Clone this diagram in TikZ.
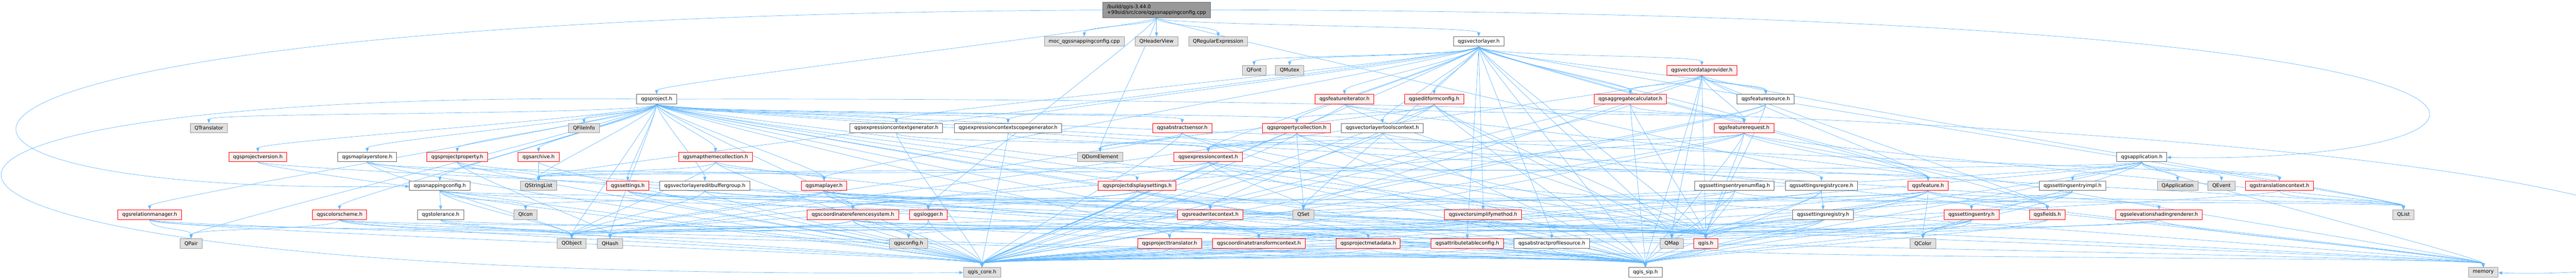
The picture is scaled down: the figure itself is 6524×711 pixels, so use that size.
\documentclass[tikz,border=0pt]{standalone}
\usepackage{fontspec}
\setmainfont{DejaVu Sans}
\usetikzlibrary{arrows.meta, backgrounds}

\definecolor{linkblue}{HTML}{63B8FF}
\definecolor{boxred}{HTML}{FFF0F0}
\definecolor{boxgray}{HTML}{E0E0E0}
\definecolor{rimgray}{HTML}{999999}
\definecolor{rimdark}{HTML}{666666}

\begin{document}
\begin{tikzpicture}[
            x = 1pt, y = -1pt, % one unit per pixel, rows run downwards
            > = {Triangle[length=10pt, width=8pt]}, % arrow head style
            font = \fontsize{12.7}{15}\selectfont
        ]

        \useasboundingbox (0,0) rectangle (6524,711);

        \tikzstyle{every node}=[
            rectangle,
            line width = 1.2pt,
            minimum height = 24pt,
            inner xsep = 11pt,
            inner ysep = 0pt,
            text = black
        ]
        \tikzstyle{header}=[draw = rimdark, fill = white]
        \tikzstyle{cutheader}=[draw = red, fill = boxred]
        \tikzstyle{qtheader}=[draw = rimgray, fill = boxgray]
        \tikzstyle{rootfile}=[draw = rimdark, fill = rimgray, align = left, minimum height = 39pt]
        \tikzstyle{loopincl}=[
            ->,
            color = linkblue,
            line width = 0.9pt
        ]
        \tikzstyle{incl}=[
            loopincl,
            to path = {.. controls +(0,40) and +(0,-40) .. (\tikztotarget)}
        ]

        \node[rootfile] (root) at (2929,25) {/build/qgis-3.44.0\\+99sid/src/core/qgssnappingconfig.cpp};

        % row 1
        \node[qtheader] (moc) at (2746,1*73.3+32) {moc\_qgssnappingconfig.cpp};
        \node[qtheader] (qheaderview) at (2929,1*73.3+32) {QHeaderView};
        \node[qtheader] (qregexp) at (3085,1*73.3+32) {QRegularExpression};
        \node[header] (vlayer) at (3745,1*73.3+32) {qgsvectorlayer.h};

        % row 2
        \node[qtheader] (qfont) at (3176,2*73.3+32) {QFont};
        \node[qtheader] (qmutex) at (3266,2*73.3+32) {QMutex};
        \node[cutheader] (vdp) at (4310,2*73.3+32) {qgsvectordataprovider.h};

        % row 3
        \node[header] (project) at (1663,3*73.3+32) {qgsproject.h};
        \node[cutheader] (fiter) at (3405,3*73.3+32) {qgsfeatureiterator.h};
        \node[cutheader] (editform) at (3632,3*73.3+32) {qgseditformconfig.h};
        \node[cutheader] (aggcalc) at (4129,3*73.3+32) {qgsaggregatecalculator.h};
        \node[header] (fsource) at (4472,3*73.3+32) {qgsfeaturesource.h};

        % row 4
        \node[qtheader] (qtranslator) at (529,4*73.3+32) {QTranslator};
        \node[qtheader] (qfileinfo) at (1479,4*73.3+32) {QFileInfo};
        \node[header] (ecgen) at (2270,4*73.3+32) {qgsexpressioncontextgenerator.h};
        \node[header] (ecsgen) at (2553,4*73.3+32) {qgsexpressioncontextscopegenerator.h};
        \node[cutheader] (sensor) at (2994,4*73.3+32) {qgsabstractsensor.h};
        \node[cutheader] (propcoll) at (3284,4*73.3+32) {qgspropertycollection.h};
        \node[header] (vltools) at (3501,4*73.3+32) {qgsvectorlayertoolscontext.h};
        \node[cutheader] (freq) at (4417,4*73.3+32) {qgsfeaturerequest.h};

        % row 5
        \node[cutheader] (projver) at (653,5*73.3+32) {qgsprojectversion.h};
        \node[header] (mlstore) at (930,5*73.3+32) {qgsmaplayerstore.h};
        \node[cutheader] (projprop) at (1158,5*73.3+32) {qgsprojectproperty.h};
        \node[cutheader] (archive) at (1364,5*73.3+32) {qgsarchive.h};
        \node[cutheader] (themes) at (1812,5*73.3+32) {qgsmapthemecollection.h};
        \node[qtheader] (qdomelement) at (2786,5*73.3+32) {QDomElement};
        \node[cutheader] (expctx) at (3060,5*73.3+32) {qgsexpressioncontext.h};
        \node[header] (app) at (5424,5*73.3+32) {qgsapplication.h};

        % row 6
        \node[header] (snapcfg) at (1114,6*73.3+32) {qgssnappingconfig.h};
        \node[qtheader] (qstringlist) at (1364,6*73.3+32) {QStringList};
        \node[cutheader] (settings) at (1590,6*73.3+32) {qgssettings.h};
        \node[header] (editbuf) at (1785,6*73.3+32) {qgsvectorlayereditbuffergroup.h};
        \node[cutheader] (maplayer) at (2087,6*73.3+32) {qgsmaplayer.h};
        \node[cutheader] (dispset) at (2880,6*73.3+32) {qgsprojectdisplaysettings.h};
        \node[header] (seenumflag) at (4393,6*73.3+32) {qgssettingsentryenumflag.h};
        \node[header] (sregcore) at (4613,6*73.3+32) {qgssettingsregistrycore.h};
        \node[cutheader] (feature) at (4883,6*73.3+32) {qgsfeature.h};
        \node[header] (seimpl) at (5249,6*73.3+32) {qgssettingsentryimpl.h};
        \node[qtheader] (qapplication) at (5515,6*73.3+32) {QApplication};
        \node[qtheader] (qevent) at (5626,6*73.3+32) {QEvent};
        \node[cutheader] (trctx) at (5773,6*73.3+32) {qgstranslationcontext.h};

        % row 7
        \node[cutheader] (relmgr) at (379,7*73.3+32) {qgsrelationmanager.h};
        \node[cutheader] (colsch) at (860,7*73.3+32) {qgscolorscheme.h};
        \node[header] (tolerance) at (1116,7*73.3+32) {qgstolerance.h};
        \node[qtheader] (qicon) at (1331,7*73.3+32) {QIcon};
        \node[cutheader] (crs) at (2160,7*73.3+32) {qgscoordinatereferencesystem.h};
        \node[cutheader] (logger) at (2351,7*73.3+32) {qgslogger.h};
        \node[cutheader] (rwctx) at (3065,7*73.3+32) {qgsreadwritecontext.h};
        \node[qtheader] (qset) at (3301,7*73.3+32) {QSet};
        \node[cutheader] (simplify) at (3756,7*73.3+32) {qgsvectorsimplifymethod.h};
        \node[header] (sreg) at (4617,7*73.3+32) {qgssettingsregistry.h};
        \node[cutheader] (sentry) at (4993,7*73.3+32) {qgssettingsentry.h};
        \node[cutheader] (fields) at (5185,7*73.3+32) {qgsfields.h};
        \node[cutheader] (elevshade) at (5468,7*73.3+32) {qgselevationshadingrenderer.h};
        \node[qtheader] (qlist) at (6087,7*73.3+32) {QList};

        % row 8
        \node[qtheader] (qpair) at (484,8*73.3+32) {QPair};
        \node[qtheader] (qobject) at (1448,8*73.3+32) {QObject};
        \node[qtheader] (qhash) at (1545,8*73.3+32) {QHash};
        \node[qtheader] (config) at (2301,8*73.3+32) {qgsconfig.h};
        \node[cutheader] (projtr) at (2962,8*73.3+32) {qgsprojecttranslator.h};
        \node[cutheader] (ctctx) at (3188,8*73.3+32) {qgscoordinatetransformcontext.h};
        \node[cutheader] (projmeta) at (3465,8*73.3+32) {qgsprojectmetadata.h};
        \node[cutheader] (attrtab) at (3716,8*73.3+32) {qgsattributetableconfig.h};
        \node[header] (profsrc) at (3930,8*73.3+32) {qgsabstractprofilesource.h};
        \node[qtheader] (qmap) at (4234,8*73.3+32) {QMap};
        \node[cutheader] (qgis) at (4320,8*73.3+32) {qgis.h};
        \node[qtheader] (qcolor) at (4870,8*73.3+32) {QColor};

        % row 9
        \node[qtheader] (qgiscore) at (2487,9*73.3+32) {qgis\_core.h};
        \node[header] (qgissip) at (4167,9*73.3+32) {qgis\_sip.h};
        \node[qtheader] (memory) at (6289,9*73.3+32) {memory};

        \begin{scope}[on background layer]
        % the long detours round the outside
        \draw[loopincl] (root) .. controls (-500,40) and (-500,500) .. (snapcfg);
        \draw[loopincl] (root) .. controls (6800,30) and (6500,420) .. (app);
        \draw[loopincl] (project) .. controls (-700,230) and (-600,720) .. (qgiscore);
        \draw[loopincl] (project) .. controls (7300,240) and (7200,720) .. (memory);

        \foreach \y in {moc,qheaderview,qregexp,project,vlayer,logger,qdomelement,sregcore}
            \path[incl] (root) edge (\y);

        \foreach \y in {qfont,qmutex,vdp,fiter,editform,aggcalc,fsource,ecgen,ecsgen,propcoll,vltools,freq,expctx,maplayer,feature,fields,qset,simplify,attrtab,profsrc,qmap,qgis,qgissip,qgiscore,qstringlist,qlist}
            \path[incl] (vlayer) edge (\y);

        \foreach \y in {aggcalc,fsource,freq,feature,fields,qmap,qset,qgis,qgiscore,qgissip,qlist,qhash}
            \path[incl] (vdp) edge (\y);

        \foreach \y in {qtranslator,qfileinfo,projver,mlstore,projprop,archive,themes,qstringlist,settings,editbuf,maplayer,relmgr,colsch,snapcfg,qpair,qobject,qhash,ecgen,ecsgen,sensor,propcoll,dispset,crs,ctctx,rwctx,projtr,projmeta,trctx,elevshade,qgis,qgissip,qlist}
            \path[incl] (project) edge (\y);

        \foreach \y in {freq,feature,qgiscore,qgis}
            \path[incl] (fiter) edge (\y);
        \foreach \y in {rwctx,qdomelement,propcoll,qmap,qgiscore,qgis,qgissip}
            \path[incl] (editform) edge (\y);
        \foreach \y in {freq,qgiscore,qgis,qgissip}
            \path[incl] (aggcalc) edge (\y);
        \foreach \y in {freq,qset,qgiscore,qgis}
            \path[incl] (fsource) edge (\y);

        \foreach \x in {ecgen,ecsgen}
            \foreach \y in {expctx,qgiscore}
                \path[incl] (\x) edge (\y);
        \foreach \y in {qdomelement,qobject,qgiscore,qgis,qgissip}
            \path[incl] (sensor) edge (\y);
        \foreach \y in {expctx,qset,qgiscore,qgissip,qgis}
            \path[incl] (propcoll) edge (\y);
        \foreach \y in {expctx,qgiscore,qgissip,memory}
            \path[incl] (vltools) edge (\y);
        \foreach \y in {feature,expctx,crs,ctctx,qgis,qgiscore,qgissip,qlist,memory}
            \path[incl] (freq) edge (\y);

        \foreach \y in {qgiscore,qgis}
            \path[incl] (projver) edge (\y);
        \foreach \y in {maplayer,qobject,qgiscore,qgissip}
            \path[incl] (mlstore) edge (\y);
        \foreach \y in {qstringlist,qhash,qgiscore,qgissip}
            \path[incl] (projprop) edge (\y);
        \foreach \y in {qstringlist,qgiscore}
            \path[incl] (archive) edge (\y);
        \foreach \y in {maplayer,qobject,qstringlist,qgiscore,qgissip}
            \path[incl] (themes) edge (\y);
        \foreach \y in {feature,qset,qstringlist,qhash,qgiscore,qgissip,qgis,memory}
            \path[incl] (expctx) edge (\y);
        \foreach \y in {seimpl,qapplication,qevent,trctx,config,qstringlist,qgis,qgiscore,qgissip,qcolor,memory}
            \path[incl] (app) edge (\y);

        \foreach \y in {tolerance,qicon,qobject,qlist,qgis,qgiscore}
            \path[incl] (snapcfg) edge (\y);
        \foreach \y in {logger,qgiscore,qgissip,qgis}
            \path[incl] (settings) edge (\y);
        \foreach \y in {qobject,qset,qgiscore}
            \path[incl] (editbuf) edge (\y);
        \foreach \y in {crs,logger,rwctx,qobject,qicon,qgiscore,qgis,qgissip,memory}
            \path[incl] (maplayer) edge (\y);
        \foreach \y in {crs,qobject,qgiscore,qgissip,memory}
            \path[incl] (dispset) edge (\y);
        \foreach \y in {sentry,qgis,logger,qgiscore,qgissip}
            \path[incl] (seenumflag) edge (\y);
        \foreach \y in {sreg,qgiscore,qgissip,qgis}
            \path[incl] (sregcore) edge (\y);
        \foreach \y in {fields,qset,qmap,qlist,qhash,qgiscore,qgissip,qgis,qcolor,memory}
            \path[incl] (feature) edge (\y);
        \foreach \y in {sentry,qcolor,qgiscore,qgissip}
            \path[incl] (seimpl) edge (\y);
        \foreach \y in {qlist,qgiscore}
            \path[incl] (trctx) edge (\y);

        \foreach \y in {qpair,qobject,qgiscore,qgissip}
            \path[incl] (relmgr) edge (\y);
        \foreach \y in {qpair,qcolor,qobject,qgiscore,qgissip}
            \path[incl] (colsch) edge (\y);
        \foreach \y in {qobject,qgis,qgiscore}
            \path[incl] (tolerance) edge (\y);
        \foreach \y in {config,qhash,qmap,qobject,qgis,qgiscore,qgissip,memory}
            \path[incl] (crs) edge (\y);
        \foreach \y in {config,qgiscore}
            \path[incl] (logger) edge (\y);
        \foreach \y in {projtr,ctctx,qgiscore,qgissip}
            \path[incl] (rwctx) edge (\y);
        \foreach \y in {qobject,qgis,qgiscore,qgissip}
            \path[incl] (simplify) edge (\y);
        \foreach \y in {qobject,qmap,qgiscore,qgissip}
            \path[incl] (sreg) edge (\y);
        \foreach \y in {qcolor,qgis,qgiscore,qgissip}
            \path[incl] (sentry) edge (\y);
        \foreach \y in {qgiscore,qgissip}
            \path[incl] (fields) edge (\y);
        \foreach \y in {qgis,qgiscore,memory}
            \path[incl] (elevshade) edge (\y);

        \foreach \x in {projtr,ctctx,projmeta,profsrc}
            \foreach \y in {qgiscore,qgissip}
                \path[incl] (\x) edge (\y);
        \path[incl] (attrtab) edge (qgiscore);
        \foreach \y in {qgiscore,qgissip,memory}
            \path[incl] (qgis) edge (\y);
        \end{scope}
    \end{tikzpicture}
\end{document}
